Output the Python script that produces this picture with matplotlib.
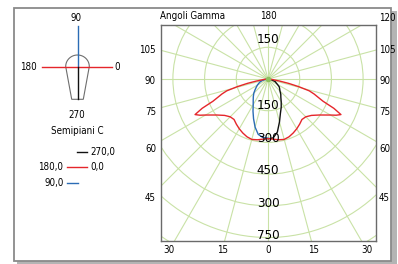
import numpy as np
import matplotlib
matplotlib.use('Agg')
import matplotlib.pyplot as plt
from matplotlib.patches import Circle, Rectangle, Polygon
from matplotlib import font_manager as fm

# pick a condensed / narrow font if one is installed
_cands = []
for f in fm.fontManager.ttflist:
    fn = f.fname.lower()
    if ('condensed' in fn or 'narrow' in fn) and 'bold' not in fn and 'italic' not in fn \
            and 'oblique' not in fn and 'light' not in fn and 'semi' not in fn and 'extra' not in fn:
        _cands.append(f)
_pref = ['dejavusanscondensed', 'liberationsansnarrow', 'opensans', 'roboto', 'noto']
_chosen = None
for p in _pref:
    for f in _cands:
        if p in f.fname.lower().replace('-', '').replace('_', ''):
            _chosen = f
            break
    if _chosen:
        break
if _chosen is None and _cands:
    _chosen = _cands[0]
if _chosen is None:
    plt.rcParams['font.family'] = ['Liberation Sans', 'DejaVu Sans']
SCALE = 1.0 if _chosen is not None else 0.9


def txt(axx, x, y, s, size, **kw):
    if _chosen is not None:
        p = fm.FontProperties(fname=_chosen.fname, size=size)
        return axx.text(x, y, s, fontproperties=p, **kw)
    return axx.text(x, y, s, fontsize=size * SCALE, **kw)


# ---------------- data (cd/klm vs gamma angle) ----------------
gamma_c0 = [0, 5, 10, 15, 20, 25, 30, 35, 40, 45, 50, 55, 60, 62, 64, 66, 68, 70, 72, 74, 76, 78, 80, 85, 90]
int_c0_c180 = [282, 286, 292, 296, 291, 282, 272, 261, 250, 253, 268, 297, 341, 365, 384, 341, 281, 252, 229, 203, 150, 100, 55, 15, 0]
gamma_c90 = [0, 5, 10, 15, 20, 25, 30, 35, 40, 45, 50, 55, 60, 65, 70, 75, 80, 85, 90]
int_c270 = [283, 280, 255, 210, 172, 148, 125, 106, 94, 80, 72, 65, 52, 42, 36, 22, 12, 5, 0]
int_c90 = [280, 278, 266, 236, 200, 168, 140, 122, 108, 95, 80, 68, 58, 48, 40, 28, 15, 6, 0]

ring_values = [150, 300, 450, 600, 750, 900, 1050]
ring_labels_low = ["150", "300", "450", "300", "750"]
ring_label_top = "150"
bottom_ticks = [30, 15, 0, 15, 30]
bottom_angles = [-30, -15, 0, 15, 30]
side_ticks = [105, 90, 75, 60, 45]

RED = '#e5262b'
BLUE = '#2b6cb5'
BLACK = '#111111'
GREEN = '#c9e2a6'

W, H = 398, 264
fig = plt.figure(figsize=(W / 100, H / 100), dpi=100)

# overlay axes in pixel coordinates (frame + left panel)
ov = fig.add_axes([0, 0, 1, 1], zorder=0)
ov.set_xlim(0, W)
ov.set_ylim(H, 0)
ov.axis('off')

ov.add_patch(Rectangle((17, 11), 380, 253, fc='#b4b4b4', ec='none'))
ov.add_patch(Rectangle((14, 8), 377, 253, fc='white', ec='#8a8a8a', lw=1.3))

# luminaire icon
cx, cy = 77.5, 66.5
t = np.linspace(np.pi, 0, 30)
dome = np.column_stack([cx + 11.8 * np.cos(t), cy - 11.5 * np.sin(t)])
body = np.vstack([dome, [[cx + 5.8, 99.3], [cx - 5.8, 99.3]]])
ov.add_patch(Polygon(body, closed=True, fill=False, ec='#6e6e6e', lw=0.8))
ov.plot([cx, cx], [26, cy], color=BLUE, lw=1.0)
ov.plot([41.7, 111.7], [cy, cy], color=RED, lw=1.0)
ov.plot([cx, cx], [cy, 99.3], color=BLACK, lw=1.0)

fs = 7
txt(ov, 76.5, 18, "90", fs, ha='center', va='center')
txt(ov, 36.5, 66.5, "180", fs, ha='right', va='center')
txt(ov, 114, 67, "0", fs, ha='left', va='center')
txt(ov, 76.5, 115, "270", fs, ha='center', va='center')
txt(ov, 77.5, 131, "Semipiani C", fs, ha='center', va='center')

# legend
ov.plot([77.3, 87.3], [151.7, 151.7], color=BLACK, lw=1.0)
txt(ov, 90.5, 151.7, "270,0", fs, ha='left', va='center')
ov.plot([66.7, 87.3], [166.7, 166.7], color=RED, lw=1.0)
txt(ov, 63.5, 166.7, "180,0", fs, ha='right', va='center')
txt(ov, 90.5, 166.7, "0,0", fs, ha='left', va='center')
ov.plot([66.7, 77.7], [182.7, 182.7], color=BLUE, lw=1.0)
txt(ov, 63.5, 182.7, "90,0", fs, ha='right', va='center')

# ---------------- main polar diagram ----------------
L, R, T, B = 161, 376, 25, 241
CX, CY = 268, 79
s = 31.7 / 150.0  # px per cd/klm

ax = fig.add_axes([L / W, (H - B) / H, (R - L) / W, (B - T) / H], zorder=1)
ax.set_xlim((L - CX) / s, (R - CX) / s)
ax.set_ylim(-(B - CY) / s, (CY - T) / s)
ax.set_xticks([])
ax.set_yticks([])
for sp in ax.spines.values():
    sp.set_color('#6a6a6a')
    sp.set_linewidth(1.0)

for r in ring_values:
    ax.add_patch(Circle((0, 0), r, fill=False, ec=GREEN, lw=0.8, zorder=1))
Lr = 2000
for a in range(0, 360, 15):
    ar = np.radians(a)
    ax.plot([0, Lr * np.sin(ar)], [0, -Lr * np.cos(ar)], color=GREEN, lw=0.8, zorder=1)

g = np.radians(gamma_c0)
I = np.array(int_c0_c180, dtype=float)
xr = np.concatenate([-(I * np.sin(g))[::-1], I * np.sin(g)])
yr = np.concatenate([-(I * np.cos(g))[::-1], -I * np.cos(g)])

g2 = np.radians(gamma_c90)
I270 = np.array(int_c270, dtype=float)
I90 = np.array(int_c90, dtype=float)
ax.plot(I270 * np.sin(g2), -I270 * np.cos(g2), color=BLACK, lw=1.0, zorder=3)
ax.plot(-I90 * np.sin(g2), -I90 * np.cos(g2), color=BLUE, lw=1.0, zorder=3)
ax.plot(xr, yr, color=RED, lw=1.0, zorder=4)
ax.plot([0], [0], 'o', color='#8fc060', ms=3, zorder=5)

# ring labels
fl = 9.5
txt(ax, 0, 150 + 35, ring_label_top, fl, ha='center', va='center', zorder=6)
for r, lab in zip(ring_values, ring_labels_low):
    txt(ax, 0, -(r * 1.025 - 27), lab, fl, ha='center', va='center', zorder=6)

# gamma tick labels
yb = -(250 - CY) / s
for lab, a in zip(bottom_ticks, bottom_angles):
    txt(ax, -yb * np.tan(np.radians(a)), yb, str(lab), fs, ha='center', va='center', clip_on=False)
xr_lab = (379 - CX) / s
xl_lab = (156 - CX) / s
for lab in side_ticks:
    yy = -(117 / s) / np.tan(np.radians(lab)) - 2 / s
    txt(ax, xr_lab, yy, str(lab), fs, ha='left', va='center', clip_on=False)
    txt(ax, xl_lab, yy, str(lab), fs, ha='right', va='center', clip_on=False)
txt(ax, xr_lab, (CY - 18) / s, "120", fs, ha='left', va='center', clip_on=False)
txt(ax, 0, (CY - 16) / s, "180", fs, ha='center', va='center', clip_on=False)
txt(ax, (160 - CX) / s, (CY - 16) / s, "Angoli Gamma", fs, ha='left', va='center', clip_on=False)

fig.savefig('out.png', dpi=100)
